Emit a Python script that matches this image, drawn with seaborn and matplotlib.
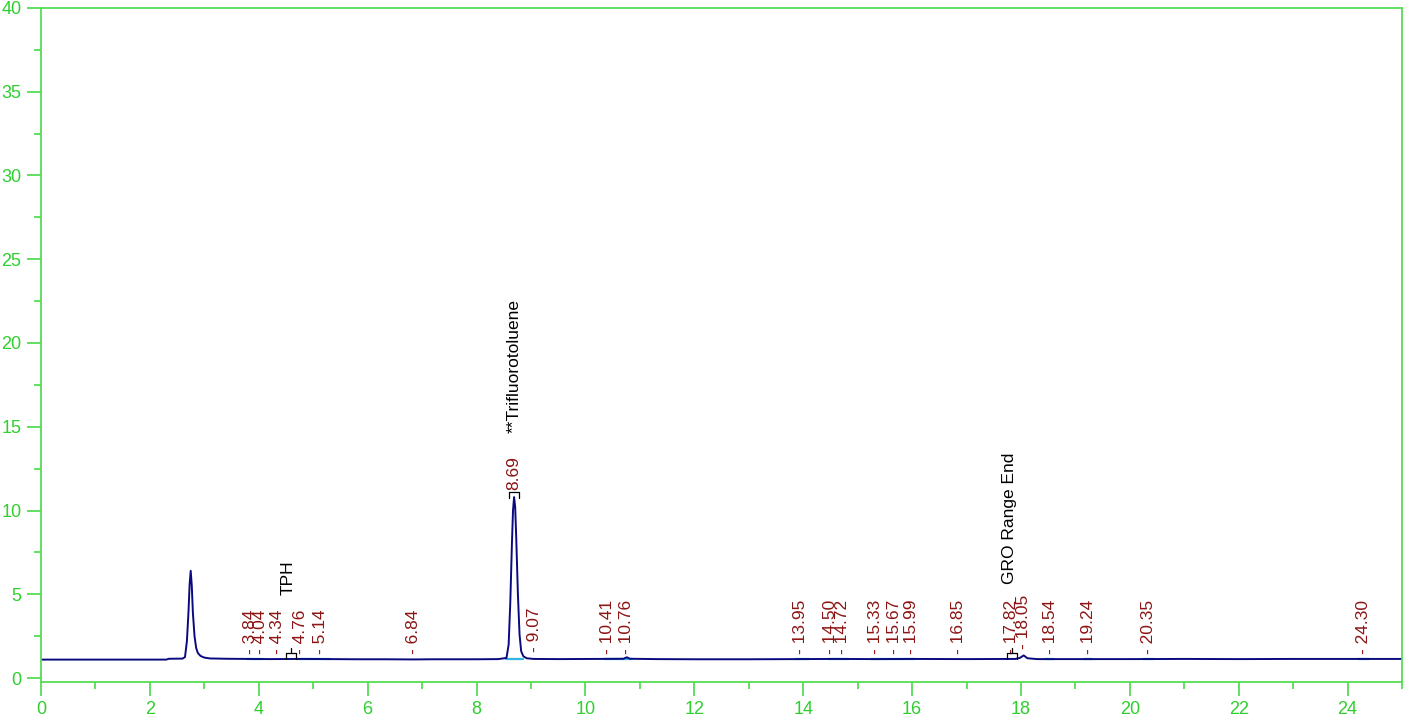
import matplotlib
matplotlib.use('Agg')
import matplotlib.pyplot as plt
from matplotlib.ticker import MultipleLocator
import seaborn as sns
import pandas as pd

# chromatogram trace (retention time in min, signal)
trace_time = [0.0, 1.0, 2.3, 2.35, 2.6, 2.645, 2.68, 2.71, 2.73, 2.75, 2.77, 2.79,
              2.82, 2.85, 2.88, 2.93, 3.0, 3.1, 3.4, 3.8, 4.2, 4.8, 5.3, 5.8,
              6.3, 6.84, 7.2, 7.6, 8.0, 8.4, 8.55, 8.59, 8.62, 8.65, 8.67, 8.69,
              8.71, 8.73, 8.76, 8.79, 8.82, 8.86, 8.92, 9.05, 9.5, 10.2, 10.7,
              10.76, 10.82, 11.3, 12.0, 13.0, 13.9, 14.6, 15.3, 16.0, 17.0,
              17.9, 17.98, 18.05, 18.12, 18.3, 19.0, 20.0, 21.0, 22.0, 23.0,
              24.0, 25.0]
trace_signal = [1.10, 1.10, 1.10, 1.15, 1.16, 1.25, 2.2, 4.0, 5.6, 6.4, 5.5, 3.9,
                2.5, 1.8, 1.5, 1.32, 1.22, 1.17, 1.15, 1.14, 1.13, 1.14, 1.13, 1.12,
                1.12, 1.11, 1.12, 1.12, 1.12, 1.13, 1.2, 2.0, 4.5, 8.0, 10.0, 10.8,
                10.2, 8.3, 5.0, 2.6, 1.6, 1.3, 1.18, 1.14, 1.13, 1.14, 1.15,
                1.24, 1.15, 1.13, 1.12, 1.12, 1.13, 1.14, 1.13, 1.14, 1.13,
                1.14, 1.2, 1.35, 1.18, 1.13, 1.13, 1.13, 1.14, 1.13, 1.14,
                1.14, 1.14]

# integration baselines (light blue segments)
base_start = [3.78, 4.70, 8.55, 10.35, 13.85, 14.45, 15.25, 18.45, 19.15, 20.25, 24.20]
base_end = [4.08, 5.30, 8.85, 10.85, 14.10, 14.85, 16.05, 18.60, 19.30, 20.45, 24.40]
base_level = 1.11

# retention time labels
rt_values = [3.84, 4.04, 4.34, 4.76, 5.14, 6.84, 9.07, 10.41, 10.76, 13.95, 14.50,
             14.72, 15.33, 15.67, 15.99, 16.85, 17.82, 18.05, 18.54, 19.24, 20.35, 24.30]
rt_label_y = [1.45, 1.45, 1.45, 1.45, 1.45, 1.45, 1.55, 1.45, 1.45, 1.45, 1.45,
              1.45, 1.45, 1.45, 1.45, 1.45, 1.45, 1.75, 1.45, 1.45, 1.45, 1.45]

# named peak
main_rt = 8.69
main_label_y = 11.25
main_name = '**Trifluorotoluene'
main_name_y = 14.6

# timed events
event_x = [4.59, 17.84]
event_names = ['TPH', 'GRO Range End']
event_name_y = [4.95, 5.6]

green_txt = '#2fcf2f'
green_ax = '#55dd55'
red = '#8c1414'

sns.set_theme(style='white')
plt.rcParams['font.family'] = ['Liberation Sans', 'DejaVu Sans']

fig = plt.figure(figsize=(14.04, 7.23), dpi=100)
ax = fig.add_axes([0.0292, 0.0571, 0.9694, 0.9319])

for s, e in zip(base_start, base_end):
    ax.plot([s, e], [base_level, base_level], color='#33b5e0', lw=1.6, zorder=1)

df = pd.DataFrame({'time': trace_time, 'signal': trace_signal})
sns.lineplot(data=df, x='time', y='signal', ax=ax, color='#0a0a80', lw=1.4,
             estimator=None, sort=False, zorder=2)


def bracket(xc, yb, w=0.18, h=0.35, tick=0.35):
    ax.plot([xc - w / 2, xc - w / 2, xc + w / 2, xc + w / 2],
            [yb, yb + h, yb + h, yb], color='black', lw=0.9, zorder=3)
    ax.plot([xc, xc], [yb + h, yb + h + tick], color='black', lw=0.9, zorder=3)


for x, y in zip(rt_values, rt_label_y):
    ax.text(x, y, f'- {x:.2f}', rotation=90, ha='center', va='bottom',
            color=red, fontsize=12.5)

bracket(main_rt, 10.75, w=0.17, h=0.35, tick=0.0)
ax.text(main_rt, main_label_y, f'{main_rt:.2f}', rotation=90, ha='center',
        va='bottom', color=red, fontsize=12.5)
ax.text(main_rt, main_name_y, main_name, rotation=90, ha='center', va='bottom',
        color='black', fontsize=12.5)

for x, name, y in zip(event_x, event_names, event_name_y):
    bracket(x, 1.12)
    ax.text(x - 0.05, y, name, rotation=90, ha='center', va='bottom',
            color='black', fontsize=12.5)

ax.set_xlim(0, 25)
ax.set_ylim(-0.22, 40)
ax.set_xlabel('')
ax.set_ylabel('')
ax.xaxis.set_major_locator(MultipleLocator(2))
ax.xaxis.set_minor_locator(MultipleLocator(1))
ax.yaxis.set_major_locator(MultipleLocator(5))
ax.yaxis.set_minor_locator(MultipleLocator(2.5))
ax.tick_params(which='major', length=10, width=1.3, color=green_ax,
               labelcolor=green_txt, labelsize=13, pad=4)
ax.tick_params(which='minor', length=5, width=1.3, color=green_ax)
ax.tick_params(axis='x', which='both', bottom=True, direction='out')
ax.tick_params(axis='y', which='both', left=True, direction='out')
for sp in ax.spines.values():
    sp.set_color(green_ax)
    sp.set_linewidth(1.3)
ax.grid(False)

fig.savefig('out.png', dpi=100, facecolor='white')
